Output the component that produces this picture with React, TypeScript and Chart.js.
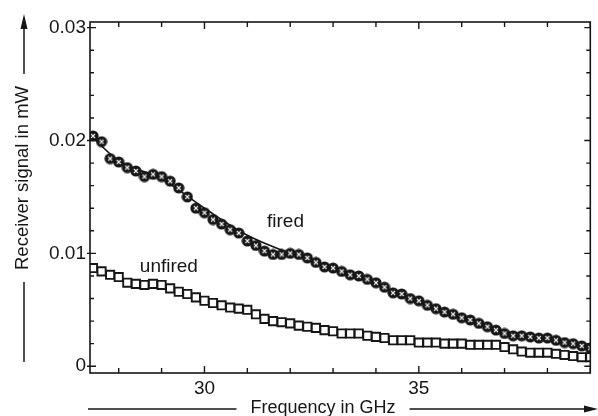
import React, { useEffect, useRef } from "react";
import { Chart, registerables } from "chart.js";

Chart.register(...registerables);

const FREQ = [27.4, 27.6, 27.8, 28.0, 28.2, 28.4, 28.6, 28.8, 29.0, 29.2, 29.4, 29.6, 29.8, 30.0, 30.2, 30.4, 30.6, 30.8, 31.0, 31.2, 31.4, 31.6, 31.8, 32.0, 32.2, 32.4, 32.6, 32.8, 33.0, 33.2, 33.4, 33.6, 33.8, 34.0, 34.2, 34.4, 34.6, 34.8, 35.0, 35.2, 35.4, 35.6, 35.8, 36.0, 36.2, 36.4, 36.6, 36.8, 37.0, 37.2, 37.4, 37.6, 37.8, 38.0, 38.2, 38.4, 38.6, 38.8, 39.0];

const FIRED = [0.0204, 0.0199, 0.0184, 0.0181, 0.0176, 0.0173, 0.0168, 0.0170, 0.0168, 0.0164, 0.0158, 0.0150, 0.0140, 0.0136, 0.0130, 0.0126, 0.0121, 0.0118, 0.0111, 0.0107, 0.0102, 0.0099, 0.0099, 0.0100, 0.0099, 0.0096, 0.0092, 0.0088, 0.0087, 0.0084, 0.0081, 0.0080, 0.0077, 0.0074, 0.0070, 0.0065, 0.0064, 0.0060, 0.0058, 0.0054, 0.0051, 0.0048, 0.0046, 0.0043, 0.0041, 0.0038, 0.0035, 0.0032, 0.0029, 0.0027, 0.0027, 0.0026, 0.0025, 0.0025, 0.0023, 0.0021, 0.0020, 0.0018, 0.0016];

const UNFIRED = [0.0087, 0.0084, 0.0081, 0.0079, 0.0074, 0.0073, 0.0072, 0.0073, 0.0072, 0.0069, 0.0066, 0.0064, 0.0061, 0.0058, 0.0056, 0.0054, 0.0052, 0.0051, 0.0050, 0.0046, 0.0042, 0.0040, 0.0039, 0.0038, 0.0036, 0.0035, 0.0034, 0.0032, 0.0031, 0.0029, 0.0029, 0.0029, 0.0027, 0.0026, 0.0025, 0.0023, 0.0023, 0.0023, 0.0021, 0.0021, 0.0021, 0.0020, 0.0020, 0.0020, 0.0019, 0.0019, 0.0019, 0.0019, 0.0017, 0.0015, 0.0013, 0.0012, 0.0012, 0.0012, 0.0011, 0.0010, 0.0009, 0.0008, 0.0008];

const FIT_FREQ = [27.33, 28, 29, 30, 31, 32, 33, 34, 35, 36, 37, 38, 39];
const FIT = [0.0205, 0.0182, 0.0166, 0.0140, 0.0116, 0.0100, 0.0087, 0.0073, 0.0057, 0.0044, 0.0031, 0.0025, 0.0017];

const X_TICKS = [28, 29, 30, 31, 32, 33, 34, 35, 36, 37, 38, 39];
const X_LABELED = [30, 35];
const Y_TICKS = [0, 0.002, 0.004, 0.006, 0.008, 0.01, 0.012, 0.014, 0.016, 0.018, 0.02, 0.022, 0.024, 0.026, 0.028, 0.03];
const Y_LABELED = [0, 0.01, 0.02, 0.03];

const SERIES_LABELS = [
  { text: "fired", x: 31.89, y: 0.0128 },
  { text: "unfired", x: 29.17, y: 0.00885 },
];

const X_TITLE = "Frequency in GHz";
const Y_TITLE = "Receiver signal in mW";

const FONT = "'Liberation Sans', Arial, Helvetica, sans-serif";
const INK = "#161616";

function isLabeled(v: number, list: number[]) {
  return list.some((l) => Math.abs(l - v) < 1e-9);
}

function makeFiredMarker() {
  const c = document.createElement("canvas");
  c.width = 12;
  c.height = 12;
  const g = c.getContext("2d")!;
  g.fillStyle = INK;
  g.beginPath();
  g.arc(6, 6, 5.6, 0, Math.PI * 2);
  g.fill();
  g.strokeStyle = "#f4f4f4";
  g.lineWidth = 1.1;
  g.beginPath();
  g.moveTo(4, 4);
  g.lineTo(8, 8);
  g.moveTo(8, 4);
  g.lineTo(4, 8);
  g.stroke();
  return c;
}

const framePlugin = {
  id: "frame",
  afterDraw(chart: any) {
    const { ctx, chartArea: a, scales } = chart;
    const xs = scales.x;
    const ys = scales.y;
    ctx.save();
    ctx.strokeStyle = INK;
    ctx.fillStyle = INK;
    ctx.lineWidth = 1.6;
    ctx.strokeRect(a.left, a.top, a.right - a.left, a.bottom - a.top);
    ctx.lineWidth = 1.4;
    ctx.beginPath();
    for (const v of Y_TICKS) {
      const py = ys.getPixelForValue(v);
      const major = isLabeled(v, Y_LABELED);
      const inLen = major ? 6 : 4;
      ctx.moveTo(a.left - (major ? 3 : 0), py);
      ctx.lineTo(a.left + inLen, py);
      ctx.moveTo(a.right, py);
      ctx.lineTo(a.right - inLen, py);
    }
    for (const v of X_TICKS) {
      const px = xs.getPixelForValue(v);
      const major = isLabeled(v, X_LABELED);
      const inLen = major ? 7 : 5;
      ctx.moveTo(px, a.bottom);
      ctx.lineTo(px, a.bottom - inLen);
      ctx.moveTo(px, a.top);
      ctx.lineTo(px, a.top + inLen);
    }
    ctx.stroke();

    ctx.font = `19px ${FONT}`;
    ctx.textAlign = "center";
    ctx.textBaseline = "middle";
    for (const l of SERIES_LABELS) {
      ctx.fillText(l.text, xs.getPixelForValue(l.x), ys.getPixelForValue(l.y));
    }

    ctx.font = `18px ${FONT}`;
    const tw = ctx.measureText(X_TITLE).width;
    const tcx = 323;
    const ty = 408;
    ctx.fillText(X_TITLE, tcx, ty);
    ctx.lineWidth = 1.5;
    ctx.beginPath();
    ctx.moveTo(88, ty + 1);
    ctx.lineTo(tcx - tw / 2 - 14, ty + 1);
    ctx.moveTo(tcx + tw / 2 + 14, ty + 1);
    ctx.lineTo(588, ty + 1);
    ctx.stroke();
    ctx.beginPath();
    ctx.moveTo(598, ty + 1);
    ctx.lineTo(584, ty - 2.5);
    ctx.lineTo(584, ty + 4.5);
    ctx.closePath();
    ctx.fill();

    const yx = 24;
    const ycy = 178;
    ctx.font = `18.5px ${FONT}`;
    ctx.save();
    ctx.translate(yx - 1, ycy);
    ctx.rotate(-Math.PI / 2);
    ctx.fillText(Y_TITLE, 0, 0);
    ctx.restore();
    const yh = ctx.measureText(Y_TITLE).width;
    ctx.beginPath();
    ctx.moveTo(yx, ycy + yh / 2 + 12);
    ctx.lineTo(yx, 362);
    ctx.moveTo(yx, ycy - yh / 2 - 12);
    ctx.lineTo(yx, 26);
    ctx.stroke();
    ctx.beginPath();
    ctx.moveTo(yx, 14);
    ctx.lineTo(yx - 3.5, 29);
    ctx.lineTo(yx + 3.5, 29);
    ctx.closePath();
    ctx.fill();
    ctx.restore();
  },
};

export default function App() {
  const ref = useRef<HTMLCanvasElement | null>(null);
  useEffect(() => {
    if (!ref.current) return;
    const marker = makeFiredMarker();
    const chart = new Chart(ref.current, {
      type: "line",
      data: {
        datasets: [
          {
            label: "fit",
            data: FIT_FREQ.map((x, i) => ({ x, y: FIT[i] })),
            borderColor: INK,
            borderWidth: 1.6,
            pointRadius: 0,
            cubicInterpolationMode: "monotone",
            order: 3,
          },
          {
            label: "unfired",
            data: FREQ.map((x, i) => ({ x, y: UNFIRED[i] })),
            borderColor: INK,
            borderWidth: 1.5,
            pointStyle: "rect",
            pointRadius: 5.8,
            pointBorderWidth: 1.9,
            pointBackgroundColor: "#ffffff",
            pointBorderColor: INK,
            order: 2,
          },
          {
            label: "fired",
            data: FREQ.map((x, i) => ({ x, y: FIRED[i] })),
            showLine: false,
            pointStyle: marker as any,
            pointRadius: 6,
            order: 1,
          },
        ],
      },
      options: {
        responsive: false,
        animation: false,
        layout: { padding: { top: 22, right: 1, left: 0, bottom: 0 } },
        plugins: { legend: { display: false }, tooltip: { enabled: false } },
        scales: {
          x: {
            type: "linear",
            min: 27.33,
            max: 39.0,
            afterBuildTicks: (s: any) => {
              s.ticks = X_TICKS.map((v) => ({ value: v }));
            },
            afterFit: (s: any) => {
              s.height = 43;
            },
            grid: { display: false, drawTicks: false },
            border: { display: false },
            ticks: {
              autoSkip: false,
              maxRotation: 0,
              padding: 4,
              color: INK,
              font: { family: FONT, size: 19 },
              callback: (v: any) => (isLabeled(Number(v), X_LABELED) ? String(v) : ""),
            },
          },
          y: {
            type: "linear",
            min: -0.0006,
            max: 0.0305,
            afterBuildTicks: (s: any) => {
              s.ticks = Y_TICKS.map((v) => ({ value: v }));
            },
            afterFit: (s: any) => {
              s.width = 90;
            },
            grid: { display: false, drawTicks: false },
            border: { display: false },
            ticks: {
              autoSkip: false,
              padding: 4,
              color: INK,
              font: { family: FONT, size: 19 },
              callback: (v: any) => {
                const n = Number(v);
                if (!isLabeled(n, Y_LABELED)) return "";
                return n === 0 ? "0" : n.toFixed(2);
              },
            },
          },
        },
      },
      plugins: [framePlugin],
    });
    return () => chart.destroy();
  }, []);
  return (
    <div style={{ position: "fixed", left: 0, top: 0, width: 598, height: 416, background: "#ffffff" }}>
      <canvas ref={ref} width={598} height={416} />
    </div>
  );
}
